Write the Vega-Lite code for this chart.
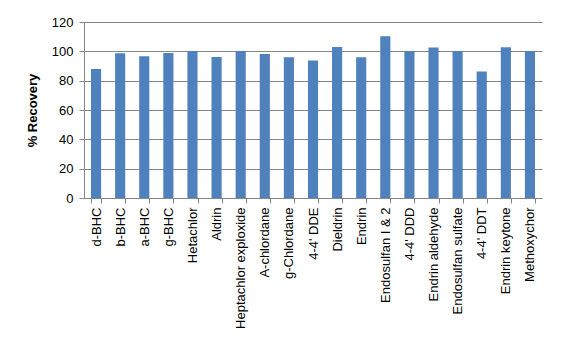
{
  "$schema": "https://vega.github.io/schema/vega-lite/v6.json",
  "width": 458,
  "height": 176,
  "autosize": {"type": "none"},
  "padding": {"left": 84, "top": 22, "right": 23, "bottom": 158},
  "background": "white",
  "data": {
    "values": [
      {"compound": "d-BHC", "recovery": 88},
      {"compound": "b-BHC", "recovery": 98.7},
      {"compound": "a-BHC", "recovery": 96.7},
      {"compound": "g-BHC", "recovery": 98.9},
      {"compound": "Hetachlor", "recovery": 100.3},
      {"compound": "Aldrin", "recovery": 96.2},
      {"compound": "Heptachlor exploxide", "recovery": 100.3},
      {"compound": "A-chlordane", "recovery": 98.2},
      {"compound": "g-Chlordane", "recovery": 95.9},
      {"compound": "4-4' DDE", "recovery": 93.7},
      {"compound": "Dieldrin", "recovery": 102.9},
      {"compound": "Endrin", "recovery": 96},
      {"compound": "Endosulfan I & 2", "recovery": 110.3},
      {"compound": "4-4' DDD", "recovery": 100.3},
      {"compound": "Endrin aldehyde", "recovery": 102.6},
      {"compound": "Endosulfan sulfate", "recovery": 100.3},
      {"compound": "4-4' DDT", "recovery": 86.2},
      {"compound": "Endrin keytone", "recovery": 102.8},
      {"compound": "Methoxychor", "recovery": 100.3}
    ]
  },
  "mark": {"type": "bar", "color": "#4F81BD"},
  "encoding": {
    "x": {
      "field": "compound",
      "type": "nominal",
      "sort": null,
      "scale": {"paddingInner": 0.58, "paddingOuter": 0.29},
      "axis": {
        "title": null,
        "labelAngle": -90,
        "labelAlign": "right",
        "labelBaseline": "middle",
        "labelFont": "Liberation Sans",
        "labelFontSize": 13,
        "labelColor": "#000000",
        "labelPadding": 4,
        "tickBand": "extent",
        "tickColor": "#868686",
        "tickSize": 5,
        "domainColor": "#868686",
        "grid": false
      }
    },
    "y": {
      "field": "recovery",
      "type": "quantitative",
      "scale": {"domain": [0, 120]},
      "axis": {
        "title": "% Recovery",
        "titleFont": "Liberation Sans",
        "titleFontSize": 13,
        "titleFontWeight": "bold",
        "titleColor": "#000000",
        "titlePadding": 12,
        "values": [0, 20, 40, 60, 80, 100, 120],
        "labelFont": "Liberation Sans",
        "labelFontSize": 13,
        "labelColor": "#000000",
        "labelPadding": 6,
        "tickColor": "#868686",
        "tickSize": 5,
        "domainColor": "#868686",
        "gridColor": "#868686",
        "gridOpacity": 1
      }
    }
  },
  "config": {"view": {"stroke": null}}
}
